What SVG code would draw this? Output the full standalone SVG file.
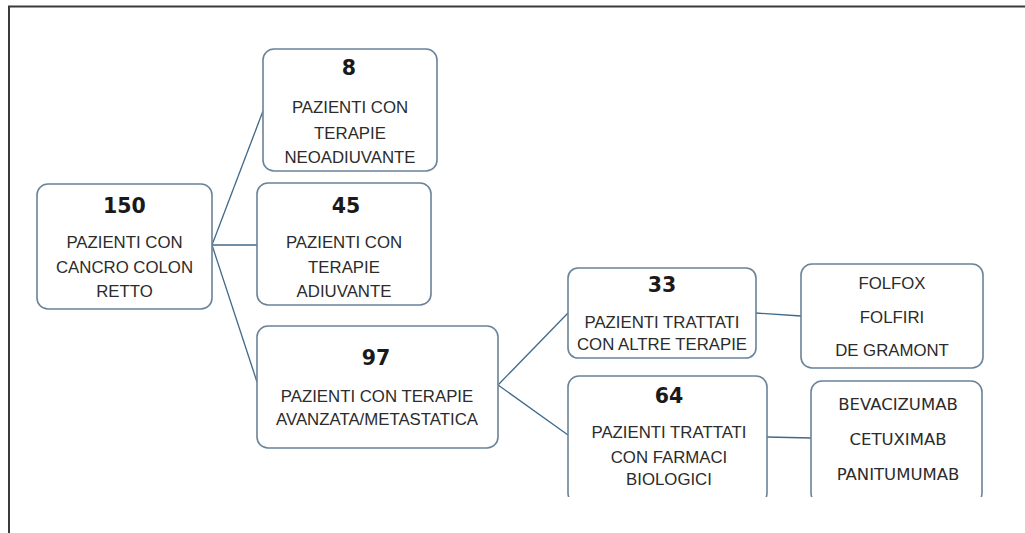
<svg xmlns="http://www.w3.org/2000/svg" width="1025" height="533" viewBox="0 0 1025 533">
<style>
.box{fill:#ffffff;stroke:#6a8399;stroke-width:1.6}
.num{font-family:"DejaVu Sans",Verdana,sans-serif;font-weight:bold;font-size:20.5px;fill:#1a1a1a;text-anchor:middle}
.txt{font-family:"Liberation Sans",Arial,sans-serif;font-size:16.8px;fill:#2b2b2b;text-anchor:middle}
.drug{font-family:"DejaVu Sans",Verdana,sans-serif;font-size:16.5px;fill:#2b2b2b;text-anchor:middle}
.con{stroke:#3f6a8c;stroke-width:1.3;fill:none}
.frame{stroke:#3a3a3a;stroke-width:2;fill:none}
</style>
<defs>
<clipPath id="cut"><rect x="0" y="0" width="1025" height="497"/></clipPath>
</defs>
<rect x="0" y="0" width="1025" height="533" fill="#ffffff"/>
<path class="frame" d="M9,533 V6.5 H1025"/>
<g id="connectors">
<line class="con" x1="212" y1="245" x2="263" y2="111"/>
<line class="con" x1="212" y1="245" x2="257" y2="245"/>
<line class="con" x1="212" y1="245" x2="257" y2="382"/>
<line class="con" x1="498" y1="385" x2="568" y2="313"/>
<line class="con" x1="498" y1="385" x2="568" y2="435"/>
<line class="con" x1="756" y1="313" x2="801" y2="316"/>
<line class="con" x1="767" y1="437" x2="811" y2="438"/>
</g>
<g id="n150">
<rect class="box" x="37" y="184" width="175" height="125" rx="11"/>
<text class="num" x="124.5" y="213">150</text>
<text class="txt" x="124.5" y="248">PAZIENTI CON</text>
<text class="txt" x="124.5" y="273">CANCRO COLON</text>
<text class="txt" x="124.5" y="297">RETTO</text>
</g>
<g id="n8">
<rect class="box" x="263" y="49" width="174" height="122" rx="11"/>
<text class="num" x="349" y="75">8</text>
<text class="txt" x="350" y="113">PAZIENTI CON</text>
<text class="txt" x="350" y="139">TERAPIE</text>
<text class="txt" x="350" y="163">NEOADIUVANTE</text>
</g>
<g id="n45">
<rect class="box" x="257" y="183" width="174" height="122" rx="11"/>
<text class="num" x="346" y="213">45</text>
<text class="txt" x="344" y="248">PAZIENTI CON</text>
<text class="txt" x="344" y="273">TERAPIE</text>
<text class="txt" x="344" y="297">ADIUVANTE</text>
</g>
<g id="n97">
<rect class="box" x="257" y="326" width="241" height="122" rx="11"/>
<text class="num" x="376" y="365">97</text>
<text class="txt" x="377" y="402">PAZIENTI CON TERAPIE</text>
<text class="txt" x="377" y="425">AVANZATA/METASTATICA</text>
</g>
<g id="n33">
<rect class="box" x="568" y="268" width="188" height="90" rx="10"/>
<text class="num" x="662" y="292">33</text>
<text class="txt" x="662" y="328">PAZIENTI TRATTATI</text>
<text class="txt" x="662" y="350">CON ALTRE TERAPIE</text>
</g>
<g id="n64">
<rect class="box" x="568" y="376" width="199" height="128" rx="11" clip-path="url(#cut)"/>
<text class="num" x="669" y="403">64</text>
<text class="txt" x="669" y="438">PAZIENTI TRATTATI</text>
<text class="txt" x="669" y="463">CON FARMACI</text>
<text class="txt" x="669" y="485">BIOLOGICI</text>
</g>
<g id="nchemo">
<rect class="box" x="801" y="264" width="182" height="104" rx="11"/>
<text class="txt" x="892" y="289">FOLFOX</text>
<text class="txt" x="892" y="323">FOLFIRI</text>
<text class="txt" x="892" y="356">DE GRAMONT</text>
</g>
<g id="nbio">
<rect class="box" x="811" y="381" width="171" height="123" rx="11" clip-path="url(#cut)"/>
<text class="drug" x="898" y="410">BEVACIZUMAB</text>
<text class="drug" x="898" y="445">CETUXIMAB</text>
<text class="drug" x="898" y="480">PANITUMUMAB</text>
</g>
</svg>
